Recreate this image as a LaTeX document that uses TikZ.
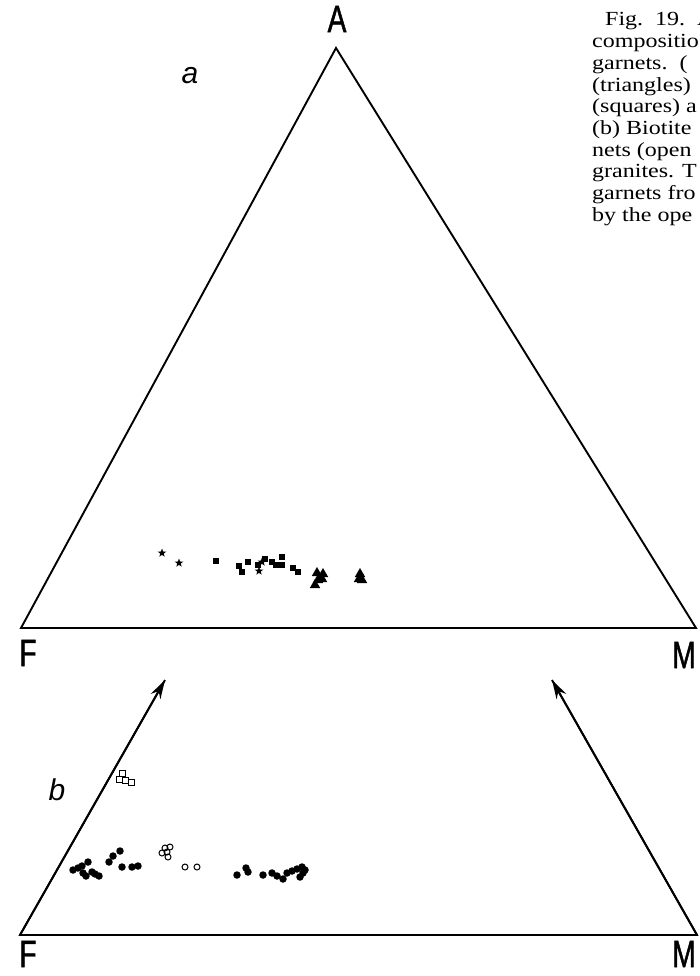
\documentclass[tikz,border=0pt]{standalone}
\usepackage{fontspec}
\setmainfont{Liberation Serif}
\newfontfamily\captfont[FakeStretch=1.2]{Liberation Serif}
\newfontfamily\vertexfont[FakeStretch=0.74, FakeBold=1.2]{Liberation Sans}
\newfontfamily\panelfont{Liberation Sans}
\usetikzlibrary{shapes.geometric,arrows.meta}

\tikzset{
  side/.style={line width=1.9pt, line join=miter},
  vertexlabel/.style={font=\vertexfont\fontsize{38}{38}\selectfont, inner sep=0pt},
  panellabel/.style={font=\panelfont\itshape\fontsize{30}{30}\selectfont, inner sep=0pt},
  captline/.style={font=\captfont\fontsize{20}{21.7}\selectfont, inner sep=0pt, anchor=base west},
  starmark/.style={star, star points=5, star point ratio=2.4, fill, inner sep=0pt, minimum size=9pt},
  sqmark/.style={rectangle, fill, inner sep=0pt, minimum size=6.5pt},
  trimark/.style={regular polygon, regular polygon sides=3, fill, inner sep=0pt, minimum size=12pt},
  dotmark/.style={circle, fill, inner sep=0pt, minimum size=7.5pt},
  ringmark/.style={circle, draw, line width=1pt, inner sep=0pt, minimum size=6pt},
  boxmark/.style={rectangle, draw, line width=1pt, inner sep=0pt, minimum size=6pt}
}

\begin{document}
\begin{tikzpicture}[x=1pt, y=-1pt]
   \useasboundingbox (0,0) rectangle (699,976);

   \coordinate (A) at (336,48);
   \coordinate (F) at (21,628);
   \coordinate (M) at (696,628);
   \draw[side] (A) -- (F) -- (M) -- cycle;

   \node[vertexlabel] (labA) at (337,19) {A};
   \node[vertexlabel] (labF) at (28,653) {F};
   \node[vertexlabel] (labM) at (684,655) {M};
   \node[panellabel] (laba) at (190,76) {a};

   \foreach \x/\y [count=\i] in {162/553, 179/563, 259/571, 262/562}
      \node[starmark] (st\i) at (\x,\y) {};
   \foreach \x/\y [count=\i] in {216/561, 239/566, 248/562, 242/572, 258/565, 265/559,
                                 272/562, 276/565, 282/557, 282/565, 293/568, 298/572}
      \node[sqmark] (sq\i) at (\x,\y) {};
   \foreach \x/\y [count=\i] in {317/573, 323/574, 318/580, 315/585, 322/579,
                                 360/574, 359/579, 362/580}
      \node[trimark] (tr\i) at (\x,\y) {};

   \coordinate (Fb) at (20,935);
   \coordinate (Mb) at (697,935);
   \coordinate (tipL) at (165,680);
   \coordinate (tipR) at (552,680);
   \draw[side] (tipL) -- (Fb) -- (Mb) -- (tipR);
   \draw[side, -{Stealth[length=19pt, width=11pt]}] (Fb) -- (tipL);
   \draw[side, -{Stealth[length=19pt, width=11pt]}] (Mb) -- (tipR);

   \node[vertexlabel] (labFb) at (28,954) {F};
   \node[vertexlabel] (labMb) at (684,954) {M};
   \node[panellabel] (labb) at (57,790) {b};

   \foreach \x/\y [count=\i] in {73/870, 78/868, 82/866, 88/862, 83/873, 86/876, 92/872,
                                 95/874, 99/876, 109/862, 113/856, 120/851, 122/867,
                                 132/867, 138/866, 237/875, 246/868, 248/872, 263/875,
                                 272/873, 277/876, 283/879, 287/873, 292/871, 297/869,
                                 302/867, 303/873, 300/877, 305/870}
      \node[dotmark] (dt\i) at (\x,\y) {};
   \foreach \x/\y [count=\i] in {162/853, 165/848, 170/847, 168/857, 167/852, 185/867, 197/867}
      \node[ringmark] (rg\i) at (\x,\y) {};
   \foreach \x/\y [count=\i] in {122/773, 119/779, 125/780, 131/782}
      \node[boxmark] (bx\i) at (\x,\y) {};

   \node[captline] (cap1) at (605,26) {Fig.\ \ 19.\ \ A};
   \foreach \t [count=\i] in {{compositio}, {garnets.\ \ (}, {(triangles)}, {(squares) a},
                              {(b) Biotite}, {nets (open}, {granites. T}, {garnets fro}, {by the ope}}
      \node[captline] (cap\i x) at (592,26+21.7*\i) {\t};
\end{tikzpicture}
\end{document}
